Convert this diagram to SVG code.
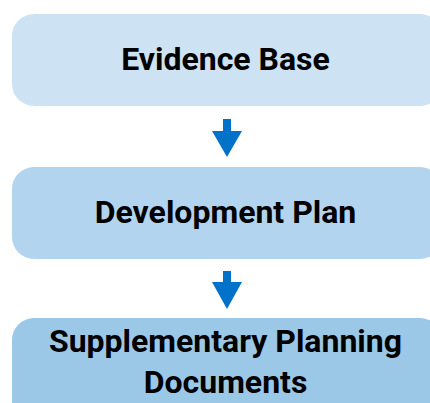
<svg xmlns="http://www.w3.org/2000/svg" width="430" height="403" viewBox="0 0 430 403">
<defs>
<style>
.t{font-family:Roboto,"Liberation Sans",sans-serif;font-weight:bold;font-size:32px;fill:#000;text-anchor:middle}
.arr{fill:#0072c9}
</style>
</defs>
<rect width="430" height="403" fill="#fff"/>
<g id="connectors">
<path class="arr" d="M223,119 H231 V131 H242 L227,157 L212,131 H223 Z"/>
<path class="arr" d="M223,271 H231 V282 H242 L227,309 L212,282 H223 Z"/>
</g>
<g id="evidence-base">
<rect x="12" y="14" width="430" height="92" rx="22" fill="#cde2f3"/>
<text class="t" x="225.5" y="70">Evidence Base</text>
</g>
<g id="development-plan">
<rect x="12" y="167" width="430" height="92" rx="22" fill="#b3d4ef"/>
<text class="t" x="225.5" y="223">Development Plan</text>
</g>
<g id="spd">
<rect x="12" y="318" width="430" height="110" rx="22" fill="#9cc8e8"/>
<text class="t" x="225.5" y="352">Supplementary Planning</text>
<text class="t" x="225.5" y="393">Documents</text>
</g>
</svg>
